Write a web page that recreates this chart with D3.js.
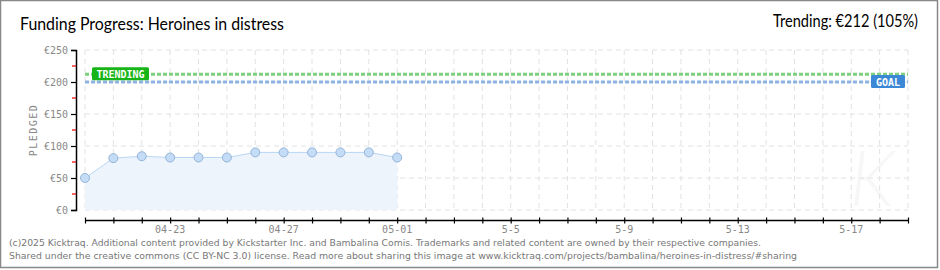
<!DOCTYPE html>
<html><head><meta charset="utf-8">
<script src="https://cdn.jsdelivr.net/npm/d3@7"></script>
<style>
html,body{margin:0;padding:0;background:#fff;}
svg{display:block;}
</style></head>
<body>
<svg id="c" width="940" height="270"></svg>
<script>
// ---- data ----
const dates = ["2025-04-20","2025-04-21","2025-04-22","2025-04-23","2025-04-24","2025-04-25","2025-04-26","2025-04-27","2025-04-28","2025-04-29","2025-04-30","2025-05-01"];
const pledged = [50,81,84,82,82,82,90,90,90,90,90,82];
const goal = 200;
const trending = 212;
const xDomain = ["2025-04-20","2025-05-19"];
const xTickDates = ["2025-04-23","2025-04-27","2025-05-01","2025-05-05","2025-05-09","2025-05-13","2025-05-17"];
const xTickLabels = ["04-23","04-27","05-01","5-5","5-9","5-13","5-17"];
const yTicks = [0,50,100,150,200,250];
const yTickLabels = ["€0","€50","€100","€150","€200","€250"];
const title = "Funding Progress: Heroines in distress";
const trendText = "Trending: €212 (105%)";
const footer1 = "(c)2025 Kicktraq. Additional content provided by Kickstarter Inc. and Bambalina Comis. Trademarks and related content are owned by their respective companies.";
const footer2 = "Shared under the creative commons (CC BY-NC 3.0) license. Read more about sharing this image at www.kicktraq.com/projects/bambalina/heroines-in-distress/#sharing";

const parse = d3.utcParse("%Y-%m-%d");
const svg = d3.select("#c");

// frame
svg.append("rect").attr("x",0.5).attr("y",0.5).attr("width",937).attr("height",267)
  .attr("fill","#fff").attr("stroke","#888").attr("stroke-width",1.5);

const x = d3.scaleUtc().domain(xDomain.map(parse)).range([85,908]);
const y = d3.scaleLinear().domain([0,250]).range([210,50]);

// watermark
svg.append("text").attr("x",872).attr("y",206).attr("text-anchor","middle")
  .attr("font-family","Lato, sans-serif").attr("font-style","italic").attr("font-weight",300)
  .attr("font-size",76).attr("fill","#f7f7f7").text("K");

// grid
const allDays = d3.utcDay.range(parse(xDomain[0]), d3.utcDay.offset(parse(xDomain[1]),1));
const g = svg.append("g");
g.selectAll("line.v").data(allDays).join("line")
  .attr("x1",d=>x(d)).attr("x2",d=>x(d)).attr("y1",y(250)).attr("y2",y(0))
  .attr("stroke","#e2e2e2").attr("stroke-dasharray","5,4");
g.selectAll("line.h").data(yTicks).join("line")
  .attr("x1",85).attr("x2",908).attr("y1",d=>y(d)).attr("y2",d=>y(d))
  .attr("stroke","#e2e2e2").attr("stroke-dasharray","5,4");

// area & line
const pts = dates.map((d,i)=>({d:parse(d),v:pledged[i]}));
svg.append("path").datum(pts)
  .attr("d",d3.area().x(p=>x(p.d)).y0(y(0)).y1(p=>y(p.v)))
  .attr("fill","#edf4fc");
svg.append("path").datum(pts)
  .attr("d",d3.line().x(p=>x(p.d)).y(p=>y(p.v)))
  .attr("fill","none").attr("stroke","#b9d6f5").attr("stroke-width",1);

// goal & trending lines
svg.append("line").attr("x1",85).attr("x2",908).attr("y1",y(goal)).attr("y2",y(goal))
  .attr("stroke","#8db3e2").attr("stroke-width",3).attr("stroke-dasharray","4,2");
svg.append("line").attr("x1",85).attr("x2",908).attr("y1",y(trending)).attr("y2",y(trending))
  .attr("stroke","#7ed07e").attr("stroke-width",3).attr("stroke-dasharray","4,2");

// points
svg.selectAll("circle.p").data(pts).join("circle")
  .attr("cx",p=>x(p.d)).attr("cy",p=>y(p.v)).attr("r",4.5)
  .attr("fill","#c4dcf6").attr("stroke","#94b4d8").attr("stroke-width",1);

// labels TRENDING / GOAL
const lf = "'DejaVu Sans Mono', monospace";
svg.append("rect").attr("x",92).attr("y",y(trending)-7).attr("width",57).attr("height",13).attr("rx",1.5)
  .attr("fill","#17b417");
svg.append("text").attr("x",120.5).attr("y",y(trending)+3.5).attr("text-anchor","middle")
  .attr("font-family",lf).attr("font-size",10).attr("font-weight","bold").attr("fill","#fff").text("TRENDING");
svg.append("rect").attr("x",871).attr("y",y(goal)-7).attr("width",34).attr("height",13).attr("rx",1.5)
  .attr("fill","#3a88d6");
svg.append("text").attr("x",888).attr("y",y(goal)+3.5).attr("text-anchor","middle")
  .attr("font-family",lf).attr("font-size",10).attr("font-weight","bold").attr("fill","#fff").text("GOAL");

// y axis
const ya = svg.append("g").attr("transform","translate(76,0)")
  .call(d3.axisLeft(y).tickValues(yTicks).tickSize(5).tickFormat((d,i)=>yTickLabels[i]));
ya.select(".domain").attr("stroke","#000").attr("stroke-width",1.5);
ya.selectAll(".tick line").attr("stroke","#000").attr("stroke-width",1.2);
ya.selectAll(".tick text").attr("font-family",lf).attr("font-size",10).attr("fill","#888").attr("x",-8);
// minor red ticks
svg.selectAll("line.minor").data([25,75,125,175,225]).join("line")
  .attr("x1",72).attr("x2",76).attr("y1",d=>y(d)).attr("y2",d=>y(d))
  .attr("stroke","#e00").attr("stroke-width",1.2);

// y title
svg.append("text").attr("transform","translate(37,130) rotate(-90)").attr("text-anchor","middle")
  .attr("font-family",lf).attr("font-size",10).attr("fill","#888").attr("letter-spacing",1.5).text("PLEDGED");

// x axis
const xa = svg.append("g").attr("transform","translate(0,220.5)");
xa.call(d3.axisBottom(x).tickValues(allDays).tickSize(3).tickFormat(""));
xa.select(".domain").attr("stroke","#000").attr("stroke-width",1.5).attr("d","M85,0H908");
xa.selectAll(".tick line").attr("stroke","#000").attr("stroke-width",1.2).attr("y1",-3).attr("y2",3);
svg.selectAll("text.xl").data(xTickDates).join("text")
  .attr("x",d=>x(parse(d))).attr("y",233).attr("text-anchor","middle")
  .attr("font-family",lf).attr("font-size",10).attr("fill","#888")
  .text((d,i)=>xTickLabels[i]);

// titles
const tf = "Lato, 'Liberation Sans Narrow', sans-serif";
svg.append("text").attr("x",20).attr("y",30).attr("font-family",tf).attr("font-weight",400)
  .attr("font-size",17).attr("fill","#000").attr("textLength",264).attr("lengthAdjust","spacingAndGlyphs").text(title);
svg.append("text").attr("x",918).attr("y",27).attr("text-anchor","end").attr("font-family",tf).attr("font-weight",400)
  .attr("font-size",16.5).attr("fill","#000").attr("textLength",145).attr("lengthAdjust","spacingAndGlyphs").text(trendText);

// footer
svg.append("text").attr("x",9).attr("y",246).attr("font-family","'DejaVu Sans',Verdana,sans-serif")
  .attr("font-size",9).attr("fill","#777").attr("textLength",752).attr("lengthAdjust","spacingAndGlyphs").text(footer1);
svg.append("text").attr("x",9).attr("y",259).attr("font-family","'DejaVu Sans',Verdana,sans-serif")
  .attr("font-size",9).attr("fill","#777").attr("textLength",788).attr("lengthAdjust","spacingAndGlyphs").text(footer2);
</script>
</body></html>
